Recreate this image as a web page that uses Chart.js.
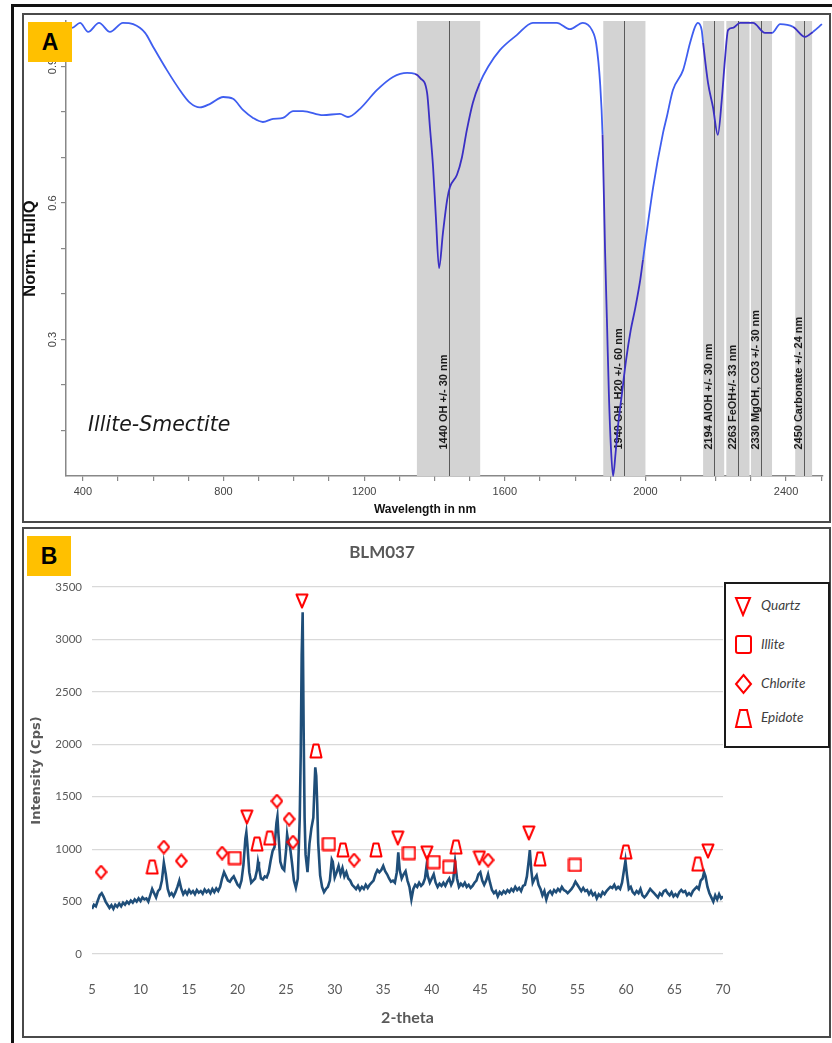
<!DOCTYPE html>
<html>
<head>
<meta charset="utf-8">
<script src="https://cdn.jsdelivr.net/npm/chart.js@4/dist/chart.umd.min.js"></script>
<style>
  body { margin: 0; width: 832px; height: 1043px; background: #fff; position: relative; overflow: hidden; }
  .frame { position: absolute; box-sizing: border-box; }
  #outer { left: 11px; top: 4px; width: 840px; height: 1050px; border: 3px solid #111; }
  #frameA { left: 22px; top: 13px; width: 809px; height: 510px; border: 2px solid #4a4a4a; }
  #frameB { left: 22px; top: 527px; width: 809px; height: 511px; border: 2px solid #4a4a4a; }
  canvas { position: absolute; }
  #chartA { left: 22px; top: 14px; }
  #chartB { left: 22px; top: 528px; }
  .badge { position: absolute; width: 44px; height: 40px; background: #ffc000; color: #000;
           font: bold 23px "Liberation Sans", Arial, sans-serif; text-align: center; line-height: 40px; }
  #mineral { position: absolute; left: 88px; top: 412px; font: italic 20.5px "DejaVu Sans", Verdana, sans-serif; color: #1a1a1a; }
  #xTitleA { position: absolute; left: 325px; width: 200px; top: 502px; text-align: center;
             font: bold 12px "Liberation Sans", Arial, sans-serif; color: #111; }
  #titleB { position: absolute; left: 282px; width: 200px; top: 541px; text-align: center;
            font: bold 17px Lato, sans-serif; color: #595959; }
  #legend { position: absolute; left: 724px; top: 582px; width: 106px; height: 166px; box-sizing: border-box;
            border: 2px solid #1a1a1a; background: #fff; }
  .item { position: absolute; left: 8px; height: 22px; font: italic 13.5px Lato, sans-serif; color: #404040; }
  .item svg { position: absolute; left: 0; top: 0; }
  .item span { position: absolute; left: 27px; top: 2px; white-space: nowrap; }
</style>
</head>
<body>
<div class="frame" id="outer"></div>
<div class="frame" id="frameA"></div>
<div class="frame" id="frameB"></div>
<canvas id="chartA" width="808" height="506"></canvas>
<canvas id="chartB" width="808" height="510"></canvas>
<div class="badge" style="left:28px;top:22px">A</div>
<div class="badge" style="left:27px;top:536px">B</div>
<div id="mineral">Illite-Smectite</div>
<div id="xTitleA">Wavelength in nm</div>
<div id="titleB">BLM037</div>
<div id="legend">
  <div class="item" style="top:11px"><svg width="20" height="22"><path d="M2,3 L16,3 L9,20 Z" fill="none" stroke="#ff0000" stroke-width="2"/></svg><span>Quartz</span></div>
  <div class="item" style="top:50px"><svg width="20" height="22"><rect x="2" y="2" width="15" height="17" rx="2" fill="none" stroke="#ff0000" stroke-width="2"/></svg><span>Illite</span></div>
  <div class="item" style="top:89px"><svg width="20" height="22"><path d="M9.5,2 L17,11 L9.5,20 L2,11 Z" fill="none" stroke="#ff0000" stroke-width="2"/></svg><span>Chlorite</span></div>
  <div class="item" style="top:123px"><svg width="20" height="22"><path d="M6,3 L13,3 L17,20 L2,20 Z" fill="none" stroke="#ff0000" stroke-width="2"/></svg><span>Epidote</span></div>
</div>
<script>
// ---- Panel A: hull quotient spectrum ----
const specWavelength = [352, 369, 392, 415, 446, 477, 514, 543, 577, 600,
  639, 676, 705, 733, 762, 799, 827, 856, 884, 912,
  941, 969, 998, 1026, 1083, 1131, 1154, 1188, 1236, 1282,
  1322, 1345, 1359, 1379, 1387, 1396, 1404, 1413, 1424, 1436,
  1444, 1464, 1478, 1492, 1509, 1529, 1553, 1586, 1634, 1680,
  1748, 1785, 1822, 1848, 1860, 1871, 1878, 1885, 1891, 1896,
  1902, 1908, 1915, 1922, 1933, 1945, 1958, 1970, 1985, 1993,
  2022, 2050, 2061, 2078, 2107, 2127, 2141, 2149, 2160, 2164,
  2178, 2192, 2206, 2217, 2226, 2235, 2249, 2269, 2306, 2340,
  2360, 2383, 2420, 2454, 2476, 2502];
const specHullQ = [0.99, 0.985, 0.996, 0.976, 0.996, 0.976, 0.996, 0.993, 0.974, 0.943,
  0.892, 0.848, 0.82, 0.81, 0.818, 0.833, 0.829, 0.804, 0.787, 0.778,
  0.785, 0.787, 0.802, 0.802, 0.793, 0.796, 0.789, 0.807, 0.848, 0.877,
  0.886, 0.884, 0.875, 0.842, 0.767, 0.679, 0.569, 0.457, 0.534, 0.607,
  0.635, 0.662, 0.70, 0.76, 0.82, 0.864, 0.90, 0.936, 0.969, 0.996,
  0.996, 0.982, 0.996, 0.98, 0.95, 0.864, 0.75, 0.5, 0.327, 0.18,
  0.06, 0.0, 0.05, 0.11, 0.18, 0.255, 0.32, 0.365, 0.43, 0.475,
  0.635, 0.754, 0.79, 0.848, 0.892, 0.952, 0.987, 0.996, 0.98, 0.952,
  0.864, 0.811, 0.75, 0.826, 0.914, 0.98, 0.985, 0.996, 0.996, 0.974,
  0.974, 0.993, 0.987, 0.965, 0.976, 0.993];

// absorption windows
const bandCentres = [1440, 1940, 2194, 2263, 2330, 2450];
const bandLow = [1350, 1880, 2164, 2230, 2300, 2426];
const bandHigh = [1530, 2000, 2224, 2296, 2360, 2474];
const bandLabels = ['1440 OH +/- 30 nm', '1940 OH, H20 +/- 60 nm', '2194 AlOH +/- 30 nm',
  '2263 FeOH+/- 33 nm', '2330 MgOH, CO3 +/- 30 nm', '2450 Carbonate +/- 24 nm'];
const hullTickLabels = [0.3, 0.6, 0.9];

// ---- Panel B: XRD pattern BLM037 ----
const xrdTheta = [5.0, 5.2, 5.4, 5.6, 5.8, 6.0, 6.2, 6.4, 6.6, 6.8,
  7.0, 7.2, 7.4, 7.6, 7.8, 8.0, 8.2, 8.4, 8.6, 8.8,
  9.0, 9.2, 9.4, 9.6, 9.8, 10.0, 10.2, 10.4, 10.6, 10.8,
  11.0, 11.2, 11.4, 11.6, 11.8, 12.0, 12.2, 12.4, 12.6, 12.8,
  13.0, 13.2, 13.4, 13.6, 13.8, 14.0, 14.2, 14.4, 14.6, 14.8,
  15.0, 15.2, 15.4, 15.6, 15.8, 16.0, 16.2, 16.4, 16.6, 16.8,
  17.0, 17.2, 17.4, 17.6, 17.8, 18.0, 18.2, 18.4, 18.6, 18.8,
  19.0, 19.2, 19.4, 19.6, 19.8, 20.0, 20.2, 20.4, 20.6, 20.8,
  20.9, 21.0, 21.2, 21.4, 21.6, 21.8, 22.0, 22.1, 22.2, 22.4,
  22.6, 22.8, 23.0, 23.2, 23.4, 23.6, 23.8, 24.0, 24.1, 24.2,
  24.4, 24.6, 24.8, 25.0, 25.1, 25.2, 25.4, 25.6, 25.8, 26.0,
  26.2, 26.4, 26.5, 26.6, 26.7, 26.8, 26.9, 27.0, 27.2, 27.4,
  27.6, 27.8, 27.9, 28.0, 28.1, 28.2, 28.3, 28.5, 28.7, 28.9,
  29.1, 29.3, 29.5, 29.7, 29.8, 30.0, 30.2, 30.4, 30.6, 30.8,
  31.0, 31.2, 31.4, 31.6, 31.8, 32.0, 32.2, 32.4, 32.6, 32.8,
  33.0, 33.2, 33.4, 33.6, 33.8, 34.0, 34.2, 34.4, 34.6, 34.8,
  35.0, 35.2, 35.4, 35.6, 35.8, 36.0, 36.2, 36.4, 36.55, 36.7,
  36.9, 37.1, 37.3, 37.5, 37.7, 37.9, 38.1, 38.3, 38.5, 38.7,
  38.9, 39.1, 39.3, 39.45, 39.6, 39.8, 40.0, 40.2, 40.4, 40.6,
  40.8, 41.0, 41.2, 41.4, 41.6, 41.8, 42.0, 42.2, 42.4, 42.6,
  42.8, 43.0, 43.2, 43.4, 43.6, 43.8, 44.0, 44.2, 44.4, 44.6,
  44.8, 45.0, 45.2, 45.4, 45.6, 45.8, 46.0, 46.2, 46.4, 46.6,
  46.8, 47.0, 47.2, 47.4, 47.6, 47.8, 48.0, 48.2, 48.4, 48.6,
  48.8, 49.0, 49.2, 49.4, 49.6, 49.8, 50.0, 50.1, 50.25, 50.4,
  50.6, 50.8, 51.0, 51.2, 51.4, 51.6, 51.8, 52.0, 52.2, 52.4,
  52.6, 52.8, 53.0, 53.2, 53.4, 53.6, 53.8, 54.0, 54.2, 54.4,
  54.6, 54.8, 55.0, 55.2, 55.4, 55.6, 55.8, 56.0, 56.2, 56.4,
  56.6, 56.8, 57.0, 57.2, 57.4, 57.6, 57.8, 58.0, 58.2, 58.4,
  58.6, 58.8, 59.0, 59.2, 59.4, 59.6, 59.8, 59.95, 60.1, 60.3,
  60.5, 60.7, 60.9, 61.1, 61.3, 61.5, 61.7, 61.9, 62.1, 62.3,
  62.5, 62.7, 62.9, 63.1, 63.3, 63.5, 63.7, 63.9, 64.1, 64.3,
  64.5, 64.7, 64.9, 65.1, 65.3, 65.5, 65.7, 65.9, 66.1, 66.3,
  66.5, 66.7, 66.9, 67.1, 67.3, 67.5, 67.7, 67.9, 68.05, 68.2,
  68.4, 68.6, 68.8, 69.0, 69.2, 69.4, 69.6, 69.8, 70.0];
const xrdCps = [430, 470, 455, 510, 560, 580, 545, 500, 470, 440,
  465, 430, 470, 450, 480, 455, 490, 470, 500, 480,
  510, 490, 520, 500, 530, 505, 540, 520, 530, 500,
  560, 620, 580, 540, 600, 620, 700, 870, 760, 620,
  560, 580, 550, 590, 640, 700, 620, 570, 600, 570,
  610, 580, 600, 570, 610, 585, 600, 575, 615, 590,
  610, 580, 620, 590, 625, 600, 640, 720, 780, 740,
  700, 690, 720, 740, 700, 660, 640, 700, 850, 1100,
  1160, 1050, 780, 680, 700, 720, 800, 880, 830, 720,
  710, 740, 730, 780, 890, 980, 1020, 1250, 1310, 1150,
  880, 820, 800, 1000, 1140, 1080, 1020, 870, 700, 630,
  720, 1300, 1900, 2850, 3260, 2150, 1300, 950, 780, 1050,
  1200, 1300, 1550, 1780, 1700, 1430, 1060, 750, 640, 590,
  620, 640, 700, 900, 880, 730, 780, 840, 760, 820,
  740, 780, 720, 700, 660, 640, 620, 650, 610, 640,
  620, 660, 630, 660, 680, 700, 760, 800, 780, 800,
  840, 790, 760, 720, 690, 700, 680, 780, 970, 800,
  720, 760, 790, 700, 640, 520, 620, 660, 640, 680,
  650, 670, 720, 830, 740, 680, 720, 760, 680, 640,
  670, 650, 680, 650, 690, 720, 660, 700, 880, 720,
  640, 670, 650, 680, 640, 660, 630, 650, 680, 700,
  760, 780, 700, 660, 700, 760, 680, 610, 580, 600,
  550, 590, 570, 600, 580, 610, 590, 620, 600, 640,
  610, 630, 600, 650, 660, 740, 900, 990, 800, 680,
  720, 750, 660, 620, 560, 600, 520, 580, 600, 570,
  610, 590, 620, 600, 640, 610, 600, 580, 600, 620,
  650, 690, 660, 630, 600, 630, 600, 610, 570, 600,
  560, 580, 530, 570, 550, 590, 570, 600, 620, 640,
  630, 660, 620, 640, 620, 680, 800, 890, 760, 620,
  640, 590, 570, 600, 580, 620, 560, 540, 560, 590,
  620, 600, 580, 560, 540, 580, 560, 600, 610, 580,
  560, 590, 550, 570, 550, 590, 610, 590, 600, 560,
  580, 560, 600, 620, 640, 620, 700, 720, 780, 740,
  640, 580, 540, 500, 560, 520, 570, 530, 550];

// phase markers (placed just above the peaks)
const quartzTheta = [20.95, 26.63, 36.5, 39.5, 44.9, 50.0, 68.45];
const quartzCps = [1306, 3366, 1106, 963, 915, 1154, 982];
const illiteTheta = [19.7, 29.4, 37.65, 40.2, 41.8, 54.75];
const illiteCps = [915, 1049, 963, 877, 830, 849];
const chloriteTheta = [5.93, 12.4, 14.2, 18.4, 24.05, 25.3, 25.7, 32.0, 45.8];
const chloriteCps = [782, 1020, 887, 963, 1459, 1287, 1068, 896, 896];
const epidoteTheta = [11.2, 22.0, 23.3, 28.07, 30.85, 34.25, 42.5, 51.15, 60.0, 67.4];
const epidoteCps = [830, 1049, 1106, 1936, 992, 992, 1020, 906, 973, 858];

function toPoints(xs, ys) {
  return xs.map((x, i) => ({ x: x, y: ys[i] }));
}

function inBand(wl) {
  return bandLow.some((lo, i) => wl >= lo && wl <= bandHigh[i]);
}

// draws a small outlined marker on its own canvas, used as a point style
function marker(w, h, path) {
  const c = document.createElement('canvas');
  c.width = w; c.height = h;
  const g = c.getContext('2d');
  g.strokeStyle = '#ff0000';
  g.lineWidth = 2;
  g.lineJoin = 'round';
  g.beginPath();
  path(g);
  g.closePath();
  g.stroke();
  return c;
}

const quartzMark = marker(14, 16, g => { g.moveTo(1.5, 1.5); g.lineTo(12.5, 1.5); g.lineTo(7, 14.5); });
const illiteMark = marker(15, 15, g => { g.rect(1.5, 1.5, 12, 12); });
const chloriteMark = marker(13, 15, g => { g.moveTo(6.5, 1.2); g.lineTo(11.8, 7.5); g.lineTo(6.5, 13.8); g.lineTo(1.2, 7.5); });
const epidoteMark = marker(14, 16, g => { g.moveTo(4.5, 1.5); g.lineTo(9.5, 1.5); g.lineTo(12.5, 14.5); g.lineTo(1.5, 14.5); });

// ---------- Chart A ----------
const bandPlugin = {
  id: 'bands',
  beforeDatasetsDraw(chart) {
    const { ctx, chartArea, scales } = chart;
    const x = scales.x, y = scales.y;
    ctx.save();
    bandCentres.forEach((c, i) => {
      const x0 = x.getPixelForValue(bandLow[i]);
      const x1 = x.getPixelForValue(bandHigh[i]);
      ctx.fillStyle = '#d3d3d3';
      ctx.fillRect(x0, chartArea.top, x1 - x0, chartArea.bottom - chartArea.top);
    });
    bandCentres.forEach((c, i) => {
      const xc = Math.round(x.getPixelForValue(c)) + 0.5;
      ctx.strokeStyle = '#5a5a5a';
      ctx.lineWidth = 1;
      ctx.beginPath();
      ctx.moveTo(xc, chartArea.top);
      ctx.lineTo(xc, chartArea.bottom);
      ctx.stroke();
      // label reads upwards, just left of the centre line
      ctx.save();
      ctx.translate(xc - 6, y.getPixelForValue(0.058));
      ctx.rotate(-Math.PI / 2);
      ctx.font = 'bold 11px "Liberation Sans", Arial, sans-serif';
      ctx.fillStyle = '#1a1a1a';
      ctx.textAlign = 'left';
      ctx.textBaseline = 'middle';
      ctx.fillText(bandLabels[i], 0, 0);
      ctx.restore();
    });
    ctx.restore();
  },
  afterDraw(chart) {
    // y tick labels are rotated in the original
    const { ctx, chartArea, scales } = chart;
    ctx.save();
    ctx.font = '11px "Liberation Sans", Arial, sans-serif';
    ctx.fillStyle = '#444';
    ctx.textAlign = 'center';
    ctx.textBaseline = 'middle';
    hullTickLabels.forEach(v => {
      ctx.save();
      ctx.translate(chartArea.left - 13, scales.y.getPixelForValue(v));
      ctx.rotate(-Math.PI / 2);
      ctx.fillText(v.toFixed(1), 0, 0);
      ctx.restore();
    });
    ctx.restore();
  }
};

new Chart(document.getElementById('chartA'), {
  type: 'line',
  data: {
    datasets: [{
      data: toPoints(specWavelength, specHullQ),
      borderColor: '#3f5ef0',
      borderWidth: 1.8,
      pointRadius: 0,
      cubicInterpolationMode: 'monotone',
      clip: false,
      segment: {
        borderColor: ctx => inBand((ctx.p0.parsed.x + ctx.p1.parsed.x) / 2) ? '#3a2fc4' : '#3f5ef0'
      }
    }]
  },
  options: {
    responsive: false,
    animation: false,
    devicePixelRatio: 1,
    layout: { padding: { top: 7, right: 7, left: 0, bottom: 0 } },
    plugins: { legend: { display: false }, tooltip: { enabled: false } },
    scales: {
      x: {
        type: 'linear',
        min: 352,
        max: 2505,
        afterFit: s => { s.height = 44; },
        ticks: {
          stepSize: 100,
          includeBounds: false,
          autoSkip: false,
          maxRotation: 0,
          padding: 4,
          color: '#444',
          font: { family: '"Liberation Sans", Arial, sans-serif', size: 11 },
          callback: v => (v % 400 === 0 ? String(v) : '')
        },
        grid: { drawOnChartArea: false, tickLength: 5, color: '#888', lineWidth: 1.2 },
        border: { color: '#888', width: 1.5 }
      },
      y: {
        min: 0,
        max: 1.0,
        afterFit: s => { s.width = 44; },
        afterBuildTicks: s => { s.ticks = s.ticks.filter(t => t.value > 0.05 && t.value < 0.95); },
        ticks: { stepSize: 0.1, display: false },
        grid: { drawOnChartArea: false, tickLength: 5, color: '#888', lineWidth: 1.2 },
        border: { color: '#888', width: 1.5 },
        title: {
          display: true,
          text: 'Norm. HullQ',
          color: '#111',
          padding: { top: 0.5, bottom: 0 },
          font: { family: '"Liberation Sans", Arial, sans-serif', size: 16.5, weight: 'bold', lineHeight: 1 }
        }
      }
    }
  },
  plugins: [bandPlugin]
});

// ---------- Chart B ----------
function phaseSet(label, xs, ys, mark) {
  return {
    type: 'scatter',
    label: label,
    data: toPoints(xs, ys),
    pointStyle: mark,
    pointRadius: 7,
    showLine: false
  };
}

new Chart(document.getElementById('chartB'), {
  type: 'line',
  data: {
    datasets: [
      {
        label: 'BLM037',
        data: toPoints(xrdTheta, xrdCps),
        borderColor: '#1f4e79',
        borderWidth: 2.6,
        pointRadius: 0,
        tension: 0,
        order: 5
      },
      phaseSet('Quartz', quartzTheta, quartzCps, quartzMark),
      phaseSet('Illite', illiteTheta, illiteCps, illiteMark),
      phaseSet('Chlorite', chloriteTheta, chloriteCps, chloriteMark),
      phaseSet('Epidote', epidoteTheta, epidoteCps, epidoteMark)
    ]
  },
  options: {
    responsive: false,
    animation: false,
    devicePixelRatio: 1,
    layout: { padding: { top: 59, right: 107, left: 0, bottom: 0 } },
    plugins: {
      legend: { display: false },
      tooltip: { enabled: false }
    },
    scales: {
      x: {
        type: 'linear',
        min: 5,
        max: 70,
        afterFit: s => { s.height = 84; },
        ticks: {
          stepSize: 5,
          autoSkip: false,
          maxRotation: 0,
          padding: 20,
          color: '#595959',
          font: { family: 'Lato, sans-serif', size: 13 }
        },
        grid: { display: false },
        border: { display: false },
        title: {
          display: true,
          text: '2-theta',
          color: '#595959',
          padding: { top: 0, bottom: 10.4 },
          font: { family: 'Lato, sans-serif', size: 16, weight: 'bold' }
        }
      },
      y: {
        min: 0,
        max: 3500,
        afterFit: s => { s.width = 70; },
        ticks: {
          stepSize: 500,
          padding: 10,
          color: '#595959',
          font: { family: 'Lato, sans-serif', size: 11.5 },
          callback: v => String(v)
        },
        grid: { color: '#d9d9d9', lineWidth: 1.2, drawTicks: false },
        border: { display: false },
        title: {
          display: true,
          text: 'Intensity (Cps)',
          color: '#595959',
          padding: { top: 7, bottom: 0 },
          font: { family: '"DejaVu Sans", Verdana, sans-serif', size: 13, weight: 'bold' }
        }
      }
    }
  }
});
</script>
</body>
</html>
